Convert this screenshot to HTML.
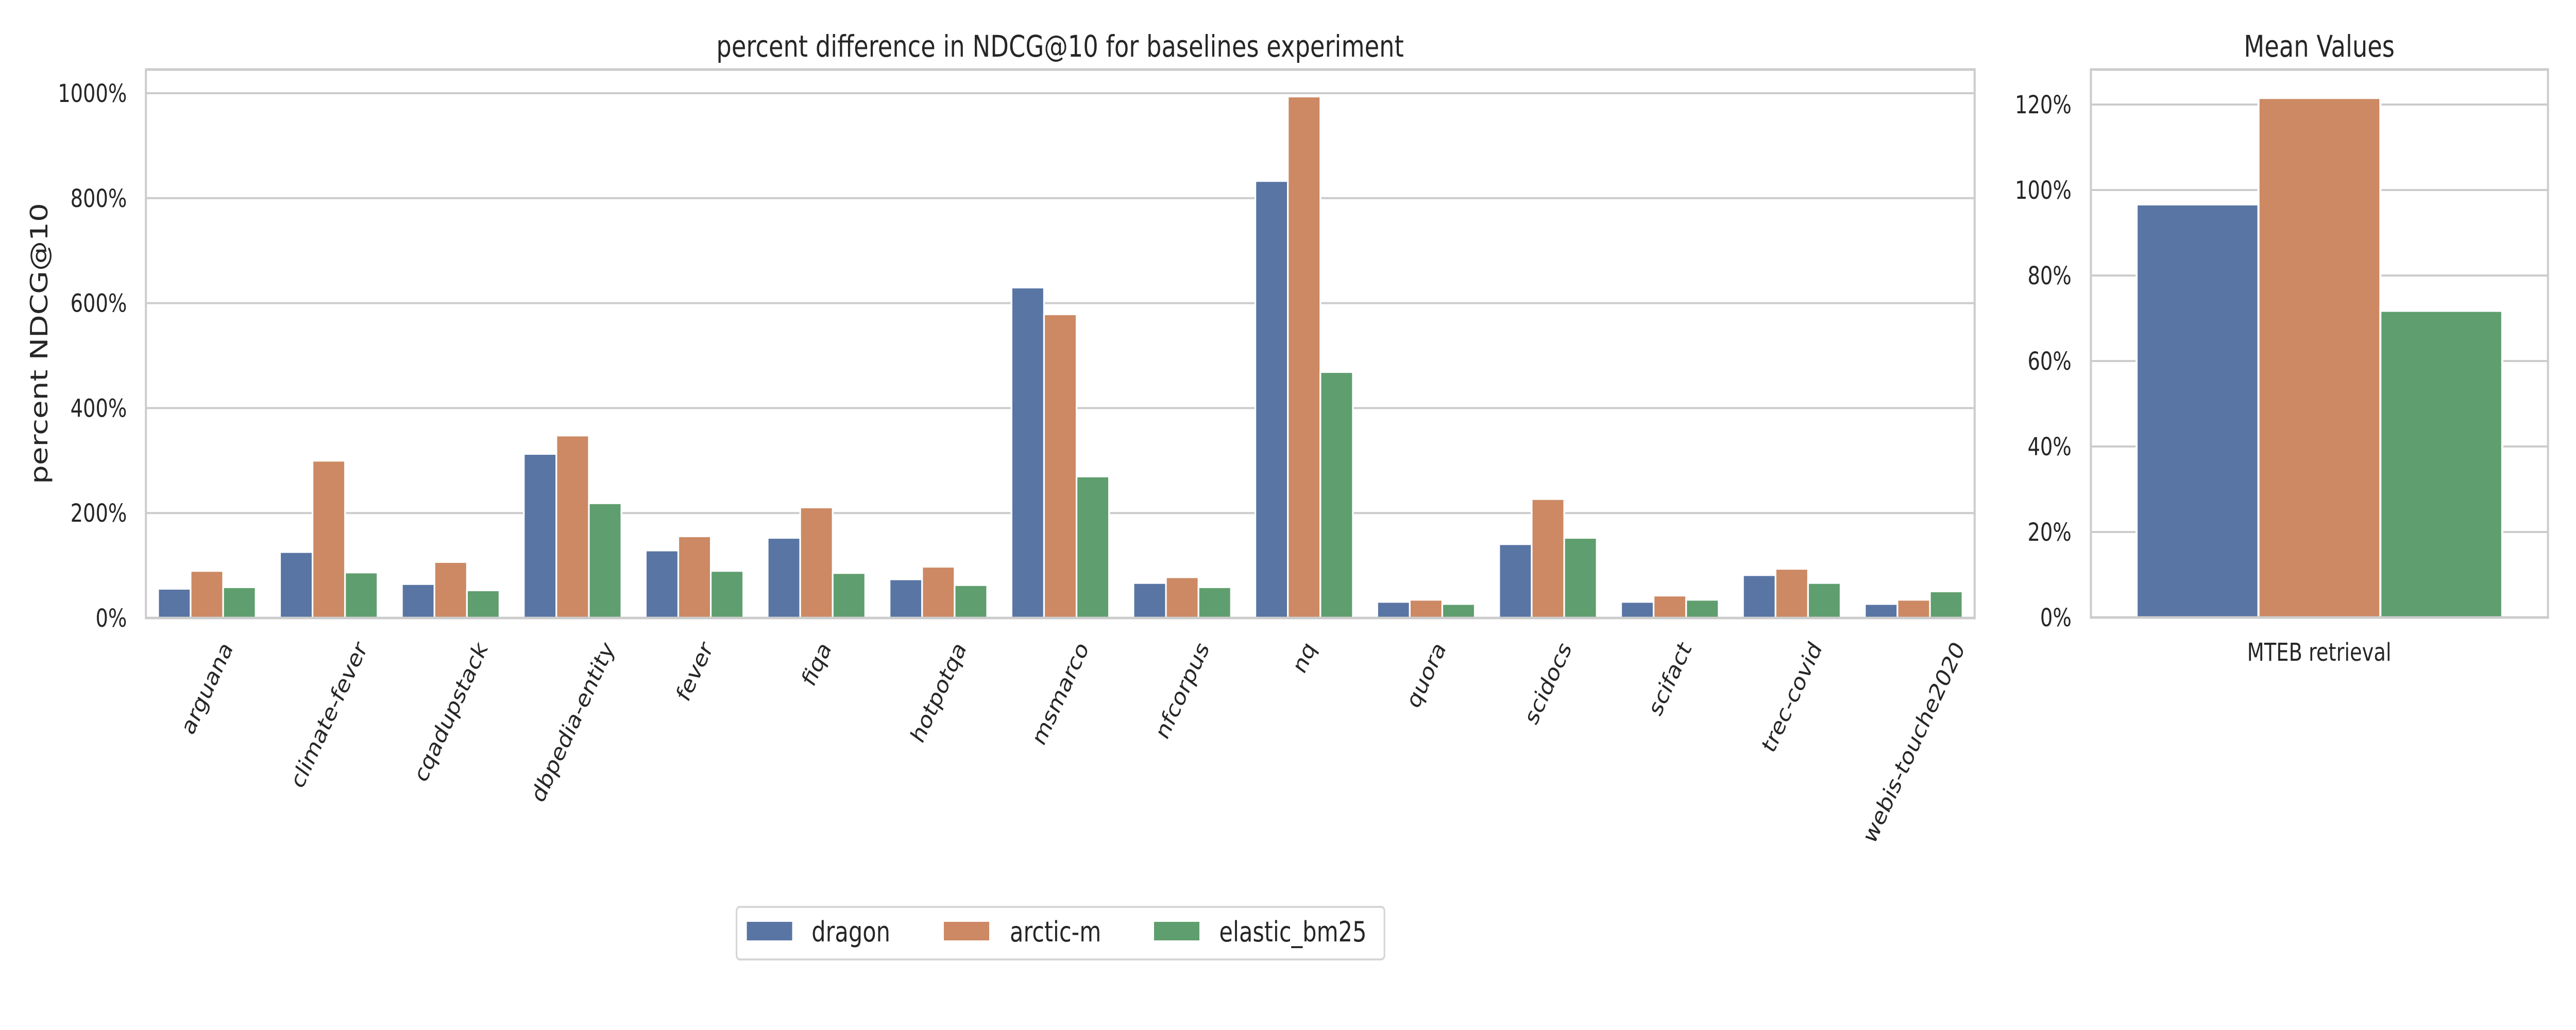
<!DOCTYPE html>
<html><head><meta charset="utf-8"><style>
html,body{margin:0;padding:0;background:#fff;width:100%;height:100%;overflow:hidden;}
svg{display:block;width:100vw;height:100vh;font-family:"DejaVu Sans","Liberation Sans",sans-serif;}
</style></head><body>
<svg id="chart" viewBox="0 0 6250 2000" preserveAspectRatio="none" xmlns="http://www.w3.org/2000/svg">
<rect width="6250" height="2000" fill="#fff"/>
<g id="gridL"></g>
<g id="gridR"></g>
<g id="barsL"></g>
<g id="barsR"></g>
<rect x="354" y="135" width="4437" height="1065" fill="none" stroke="#cccccc" stroke-width="5"/>
<rect x="5073" y="135" width="1109" height="1064" fill="none" stroke="#cccccc" stroke-width="5"/>
<text x="2572" y="110" font-size="58" text-anchor="middle" fill="#262626">percent difference in NDCG@10 for baselines experiment</text>
<text x="5627" y="110" font-size="58" text-anchor="middle" fill="#262626">Mean Values</text>
<text transform="translate(115,667) rotate(-90)" font-size="58" text-anchor="middle" fill="#262626">percent NDCG@10</text>
<text x="5627" y="1283" font-size="48" text-anchor="middle" fill="#262626">MTEB retrieval</text>
<g id="xlabels"></g>
<g>
<rect x="1787" y="1761" width="1572" height="102" rx="8" fill="#fff" stroke="#d6d6d6" stroke-width="4"/>
<rect x="1812" y="1790" width="110" height="36" fill="#5975a4"/>
<text x="1969" y="1828" font-size="54" fill="#262626">dragon</text>
<rect x="2290" y="1790" width="110" height="36" fill="#cc8963"/>
<text x="2450" y="1828" font-size="54" fill="#262626">arctic-m</text>
<rect x="2800" y="1790" width="110" height="36" fill="#5f9e6e"/>
<text x="2958" y="1828" font-size="54" fill="#262626">elastic_bm25</text>
</g>
</svg>
<script>
const categories = ["arguana","climate-fever","cqadupstack","dbpedia-entity","fever","fiqa","hotpotqa","msmarco","nfcorpus","nq","quora","scidocs","scifact","trec-covid","webis-touche2020"];
const dragonValues = [56,126,65,313,129,153,74,630,67,833,31,141,31,82,27];
const arcticValues = [90,300,107,348,156,211,98,579,78,994,35,227,43,94,35];
const bm25Values = [59,87,53,219,90,86,63,270,59,469,27,153,35,67,51];
const meanCategories = ["MTEB retrieval"];
const meanDragon = [96.7];
const meanArctic = [121.6];
const meanBm25 = [71.8];
const leftTicks = [0,200,400,600,800,1000];
const leftTickLabels = ["0%","200%","400%","600%","800%","1000%"];
const rightTicks = [0,20,40,60,80,100,120];
const rightTickLabels = ["0%","20%","40%","60%","80%","100%","120%"];

const NS = "http://www.w3.org/2000/svg";
const colors = ["#5975a4","#cc8963","#5f9e6e"];
const seriesNames = ["dragon","arctic-m","elastic-bm25"];
const LP = {x0:354, x1:4791, y0:1200, yTop:181, vTop:1000};
const RP = {x0:5073, x1:6182, y0:1199, yTop:203, vTop:120};
function yL(v){return LP.y0 - v*(LP.y0-LP.yTop)/LP.vTop;}
function yR(v){return RP.y0 - v*(RP.y0-RP.yTop)/RP.vTop;}
function xBand(i,n,x0,x1){const w=(x1-x0)/n; return x0 + w*(i+0.5);}
function mk(tag, attrs, parent){const e=document.createElementNS(NS,tag); for(const k in attrs) e.setAttribute(k, attrs[k]); parent.appendChild(e); return e;}

const svgEl = document.getElementById('chart');
const gridL = document.getElementById('gridL');
const gridR = document.getElementById('gridR');
leftTicks.forEach((t,i)=>{
  const ln = mk('line',{x1:LP.x0,x2:LP.x1,y1:yL(t),y2:yL(t),stroke:'#cccccc','stroke-width':4},gridL);
  
  
  const tx = mk('text',{x:308,y:yL(t)+17,'font-size':48,'text-anchor':'end',fill:'#262626'},svgEl);
  tx.textContent = leftTickLabels[i];
  
  
});
rightTicks.forEach((t,i)=>{
  const ln = mk('line',{x1:RP.x0,x2:RP.x1,y1:yR(t),y2:yR(t),stroke:'#cccccc','stroke-width':4},gridR);
  
  
  const tx = mk('text',{x:5026,y:yR(t)+17,'font-size':48,'text-anchor':'end',fill:'#262626'},svgEl);
  tx.textContent = rightTickLabels[i];
  
  
});

const barsL = document.getElementById('barsL');
const seriesL = [dragonValues, arcticValues, bm25Values];
const bandL = (LP.x1-LP.x0)/categories.length;
const bwL = bandL*0.8/3;
categories.forEach((c,i)=>{
  const cx = xBand(i,categories.length,LP.x0,LP.x1);
  seriesL.forEach((s,j)=>{
    const x = cx - 1.5*bwL + j*bwL;
    const r = mk('rect',{x:x,y:yL(s[i]),width:bwL,height:yL(0)-yL(s[i]),fill:colors[j],stroke:'#fff','stroke-width':4},barsL);
    
    
  });
});

const barsR = document.getElementById('barsR');
const seriesR = [meanDragon, meanArctic, meanBm25];
const bwR = (RP.x1-RP.x0)*0.8/3;
meanCategories.forEach((c,i)=>{
  const cx = xBand(i,meanCategories.length,RP.x0,RP.x1);
  seriesR.forEach((s,j)=>{
    const x = cx - 1.5*bwR + j*bwR;
    const r = mk('rect',{x:x,y:yR(s[i]),width:bwR,height:yR(0)-yR(s[i]),fill:colors[j],stroke:'#fff','stroke-width':5},barsR);
    
    
  });
});

const xl = document.getElementById('xlabels');
const labelFs = 48, labelTop = 1238;
const s60 = Math.sin(Math.PI/3), c60 = Math.cos(Math.PI/3);
categories.forEach((c,i)=>{
  const cx = xBand(i,categories.length,LP.x0,LP.x1);
  const t = mk('text',{'font-size':labelFs,'text-anchor':'middle',fill:'#262626'},xl);
  t.textContent = c;
  
  
  let len = c.length*labelFs*0.58;
  try{ const m=t.getComputedTextLength(); if(m>0) len=m; }catch(e){}
  const h = len*s60 + labelFs*c60;
  const cy = labelTop + h/2;
  t.setAttribute('transform','translate('+cx+','+cy+') rotate(-60)');
  t.setAttribute('dy', (labelFs*0.35));
});
</script>
</body></html>
